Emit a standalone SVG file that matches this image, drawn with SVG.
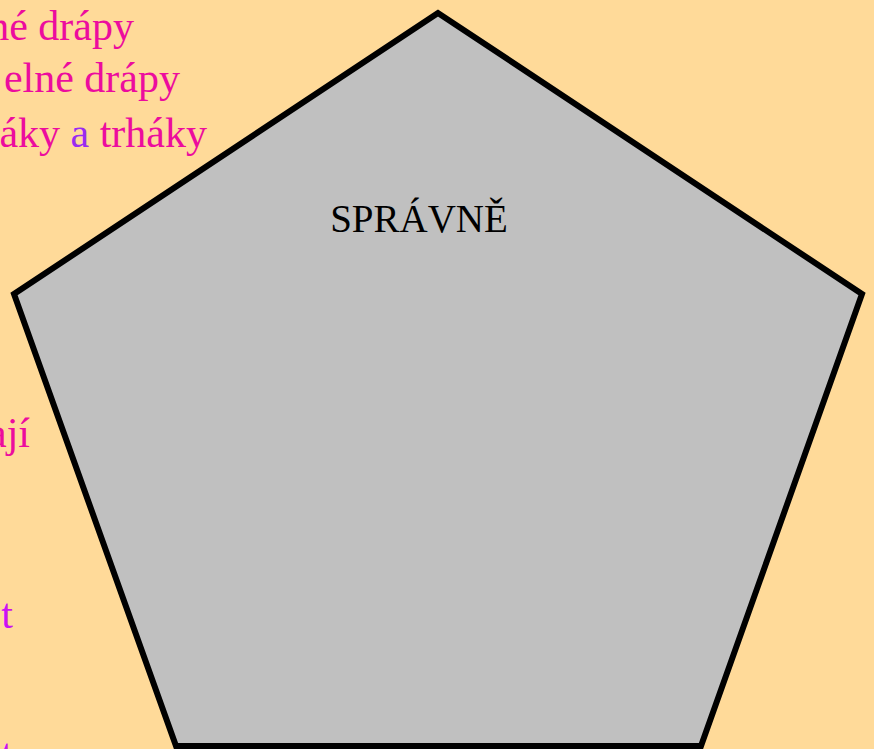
<svg xmlns="http://www.w3.org/2000/svg" width="874" height="749" viewBox="0 0 874 749">
<style>
.t{font-family:"Liberation Serif","Times New Roman",serif;font-size:42px}
.c{font-family:"Liberation Serif","Times New Roman",serif;font-size:39px}
.pk{fill:#EC0C9E}
.pu{fill:#9A2BF0}
.vi{fill:#CC10F4}
</style>
<rect x="0" y="0" width="874" height="749" fill="#FFDA99"/>
<g id="labels">
<text class="t pk" x="134" y="40" text-anchor="end">né drápy</text>
<text class="t pk" x="180" y="92" text-anchor="end">elné drápy</text>
<text class="t pk" x="207" y="147" text-anchor="end">áky <tspan class="pu">a</tspan> trháky</text>
<text class="t pk" x="30" y="447" text-anchor="end">ají</text>
<text class="t vi" x="13" y="628" text-anchor="end">t</text>
<text class="t vi" x="13" y="768" text-anchor="end">t</text>
</g>
<g id="pentagon">
<polygon points="438,13 14,294 176,746 701,746 862,294" fill="#C0C0C0" stroke="#000" stroke-width="6" stroke-linejoin="miter"/>
<text class="c" x="419" y="232" text-anchor="middle" fill="#000">SPRÁVNĚ</text>
</g>
</svg>
